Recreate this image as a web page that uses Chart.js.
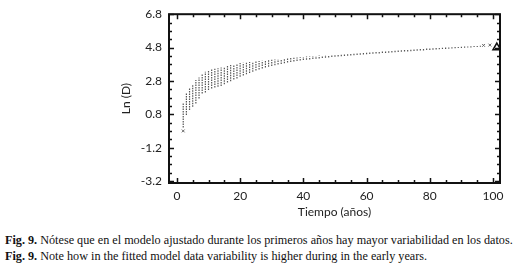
<!DOCTYPE html>
<html>
<head>
<meta charset="utf-8">
<script src="https://cdn.jsdelivr.net/npm/chart.js@4.4.0/dist/chart.umd.min.js"></script>
<style>
    body { margin: 0; background: #fff; width: 527px; height: 274px; overflow: hidden; position: relative; }
    #chart-box { position: absolute; left: 0; top: 0; width: 527px; height: 223px; }
    .caption { position: absolute; left: 5px; font-family: "Liberation Serif", "Times New Roman", serif; font-size: 12.2px; color: #111; white-space: nowrap; }
</style>
</head>
<body>
<div id="chart-box"><canvas id="fit-chart"></canvas></div>
<div class="caption" style="top: 233px;"><b>Fig. 9.</b> Nótese que en el modelo ajustado durante los primeros años hay mayor variabilidad en los datos.</div>
<div class="caption" style="top: 249px;"><b>Fig. 9.</b> Note how in the fitted model data variability is higher during in the early years.</div>
<script>
// Years with a column of observations, and the low / high Ln(D) read from each column
const years = [
    2, 3, 4, 5, 6, 7, 8, 9, 10, 11, 12, 13, 14, 15, 16, 17, 18, 19, 20, 21,
    22, 23, 24, 25, 26, 27, 28, 29, 30, 31, 32, 33, 34, 35, 36, 37, 38, 39, 40, 41,
    42, 43, 44, 45, 46, 47, 48, 49, 50, 51, 52, 53, 54, 55, 56, 57, 58, 59, 60, 61,
    62, 63, 64, 65, 66, 67, 68, 69, 70, 71, 72, 73, 74, 75, 76, 77, 78, 79, 80, 81,
    82, 83, 84, 85, 86, 87, 88, 89, 90, 91, 92, 93, 94, 95, 96
];
const lowValues = [
    0.00, 0.75, 1.05, 1.25, 1.45, 1.75, 2.05, 2.10, 2.25, 2.35, 2.40, 2.45, 2.50, 2.60, 2.70, 2.78, 2.88, 2.95, 3.05, 3.12,
    3.20, 3.28, 3.35, 3.42, 3.48, 3.54, 3.60, 3.65, 3.70, 3.74, 3.78, 3.82, 3.86, 3.90, 3.93, 3.96, 3.99, 4.02, 4.05, 4.07,
    4.09, 4.11, 4.13, 4.15, 4.17, 4.19, 4.21, 4.23, 4.25, 4.26, 4.28, 4.30, 4.31, 4.33, 4.34, 4.36, 4.37, 4.39, 4.40, 4.41,
    4.43, 4.44, 4.45, 4.47, 4.48, 4.49, 4.51, 4.52, 4.53, 4.55, 4.56, 4.57, 4.58, 4.60, 4.61, 4.62, 4.63, 4.65, 4.66, 4.67,
    4.68, 4.70, 4.71, 4.72, 4.73, 4.74, 4.76, 4.77, 4.78, 4.79, 4.80, 4.81, 4.83, 4.84, 4.85
];
const highValues = [
    1.50, 2.10, 2.35, 2.55, 2.85, 3.00, 3.25, 3.35, 3.45, 3.50, 3.53, 3.56, 3.60, 3.65, 3.70, 3.75, 3.79, 3.83, 3.87, 3.89,
    3.91, 3.93, 3.95, 3.97, 3.99, 4.01, 4.03, 4.05, 4.07, 4.09, 4.10, 4.12, 4.14, 4.16, 4.17, 4.19, 4.20, 4.22, 4.24, 4.26,
    4.27, 4.29, 4.30, 4.32, 4.33, 4.35, 4.36, 4.38, 4.39, 4.40, 4.42, 4.43, 4.44, 4.46, 4.47, 4.48, 4.49, 4.51, 4.52, 4.53,
    4.54, 4.55, 4.57, 4.58, 4.59, 4.60, 4.61, 4.62, 4.64, 4.65, 4.66, 4.67, 4.68, 4.69, 4.70, 4.71, 4.73, 4.74, 4.75, 4.76,
    4.77, 4.78, 4.79, 4.80, 4.81, 4.82, 4.83, 4.84, 4.85, 4.86, 4.87, 4.88, 4.89, 4.90, 4.91
];

// Isolated cross markers
const crossYears = [2, 97, 99];
const crossValues = [-0.2, 4.93, 4.95];

// Triangle marker on the right edge
const triangleYear = [101.2];
const triangleValue = [4.8];

// Tick labels
const xTickLabels = [0, 20, 40, 60, 80, 100];
const yTickLabels = [6.8, 4.8, 2.8, 0.8, -1.2, -3.2];

// Build the column segments (low -> high, broken by a gap after each year)
const columnPoints = [];
years.forEach((year, i) => {
    columnPoints.push({x: year, y: lowValues[i]});
    columnPoints.push({x: year, y: highValues[i]});
    columnPoints.push({x: year, y: null});
});

// Frame with inward major / minor ticks on all four sides
const framePlugin = {
    id: 'frame',
    afterDraw: function (chart) {
        const ctx = chart.ctx;
        const area = chart.chartArea;
        const xScale = chart.scales.x;
        const yScale = chart.scales.y;
        ctx.save();
        ctx.strokeStyle = '#111';
        ctx.lineWidth = 1.5;
        ctx.beginPath();
        for (let v = 0; v <= 100; v += 5) {
            const px = Math.round(xScale.getPixelForValue(v)) + 0.5;
            const len = v % 20 === 0 ? 5 : 3;
            ctx.moveTo(px, area.bottom);
            ctx.lineTo(px, area.bottom - len);
            ctx.moveTo(px, area.top);
            ctx.lineTo(px, area.top + len);
        }
        for (let k = 0; k <= 20; k++) {
            const v = -3.2 + k * 0.5;
            const py = Math.round(yScale.getPixelForValue(v)) + 0.5;
            const len = k % 4 === 0 ? 5 : 3;
            ctx.moveTo(area.left, py);
            ctx.lineTo(area.left + len, py);
            ctx.moveTo(area.right, py);
            ctx.lineTo(area.right - len, py);
        }
        ctx.stroke();
        ctx.lineWidth = 2;
        ctx.strokeRect(area.left, area.top, area.right - area.left, area.bottom - area.top);
        ctx.restore();
    }
};

const tickFont = {family: 'Lato, "Open Sans", sans-serif', size: 12};

new Chart(document.getElementById('fit-chart'), {
    type: 'scatter',
    data: {
        datasets: [
            {
                label: 'columns',
                data: columnPoints,
                showLine: true,
                spanGaps: false,
                borderColor: '#555',
                borderWidth: 1.2,
                borderDash: [1.5, 1],
                pointRadius: 0,
                fill: false
            },
            {
                label: 'crosses',
                data: crossYears.map((x, i) => ({x: x, y: crossValues[i]})),
                pointStyle: 'crossRot',
                pointRadius: 2,
                borderColor: '#666',
                borderWidth: 1
            },
            {
                label: 'triangle',
                data: triangleYear.map((x, i) => ({x: x, y: triangleValue[i]})),
                pointStyle: 'triangle',
                pointRadius: 4.5,
                borderColor: '#111',
                backgroundColor: '#fff',
                borderWidth: 1.5
            }
        ]
    },
    options: {
        responsive: true,
        maintainAspectRatio: false,
        animation: false,
        events: [],
        layout: {padding: {left: 115, right: 27, top: 14, bottom: 0}},
        plugins: {legend: {display: false}, tooltip: {enabled: false}},
        scales: {
            x: {
                type: 'linear',
                min: -2.5,
                max: 102.2,
                grid: {display: false, drawTicks: false},
                border: {display: false},
                afterBuildTicks: scale => { scale.ticks = xTickLabels.map(v => ({value: v})); },
                afterFit: scale => { scale.height = 40; },
                ticks: {color: '#222', font: tickFont, padding: 6, maxRotation: 0},
                title: {display: true, text: 'Tiempo (años)', color: '#222', font: tickFont, padding: {top: 4, bottom: 4}}
            },
            y: {
                type: 'linear',
                min: -3.32,
                max: 6.8,
                grid: {display: false, drawTicks: false},
                border: {display: false},
                afterBuildTicks: scale => { scale.ticks = yTickLabels.map(v => ({value: v})); },
                afterFit: scale => { scale.width = 54; },
                ticks: {color: '#222', font: tickFont, padding: 7, callback: v => v.toFixed(1)},
                title: {display: true, text: 'Ln (D)', color: '#222', font: tickFont, padding: {top: 4, bottom: 4}}
            }
        }
    },
    plugins: [framePlugin]
});
</script>
</body>
</html>
